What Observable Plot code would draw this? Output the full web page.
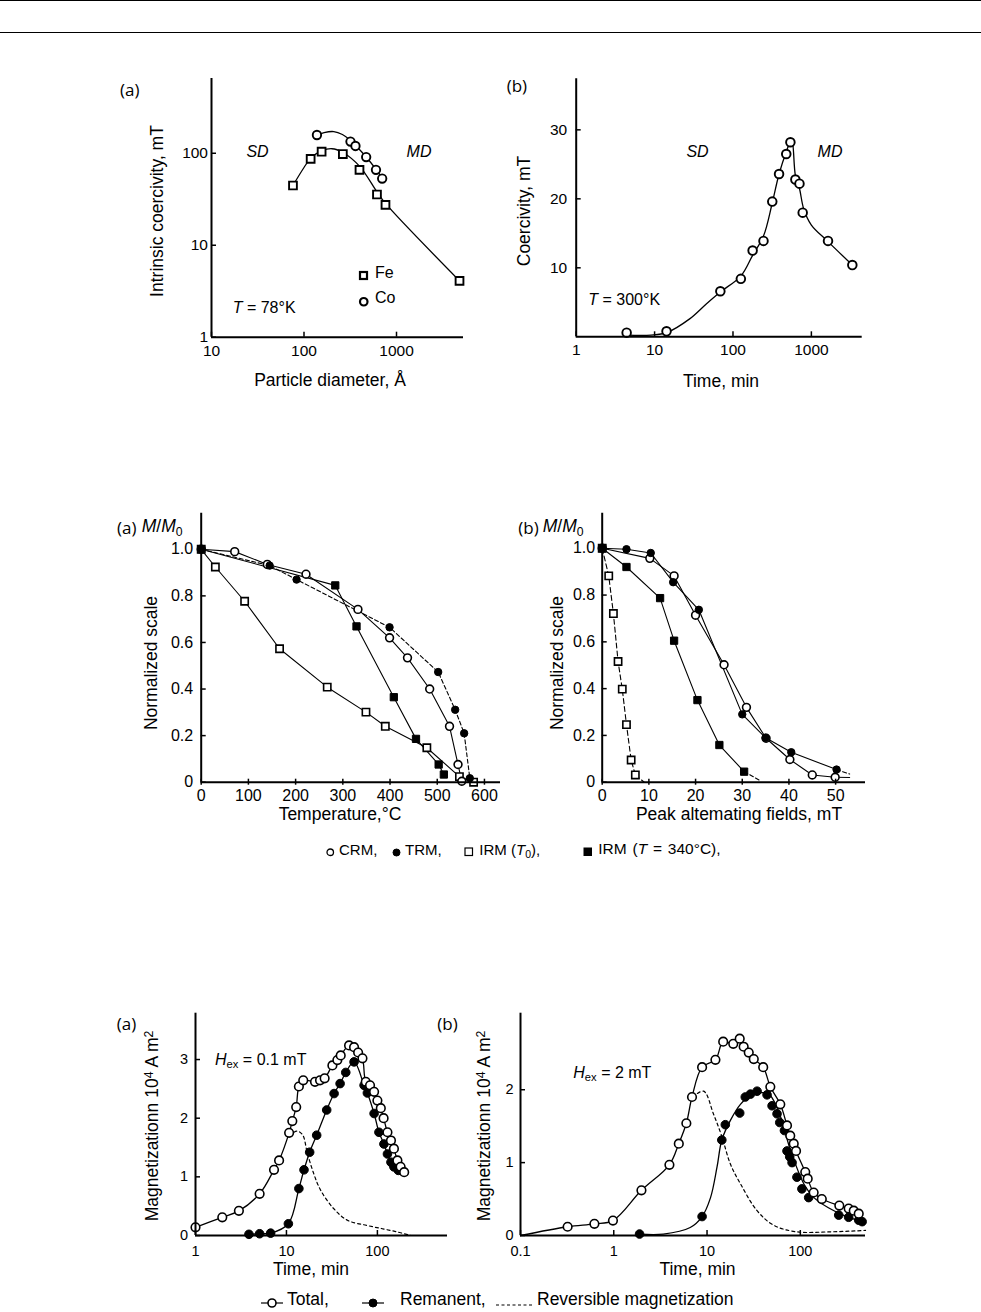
<!DOCTYPE html>
<html><head><meta charset="utf-8">
<script src="https://cdn.jsdelivr.net/npm/d3@7"></script>
<script src="https://cdn.jsdelivr.net/npm/@observablehq/plot@0.6"></script>
<style>
html,body{margin:0;padding:0;background:#fff;}
#page{position:relative;width:981px;height:1312px;overflow:hidden;font-family:"Liberation Sans",Arial,Helvetica,sans-serif;color:#000;}
.t{position:absolute;white-space:nowrap;line-height:1;}
.t sub{font-size:0.7em;vertical-align:-0.3em;line-height:0;}
.t sup{font-size:0.7em;vertical-align:0.45em;line-height:0;}
.hr{position:absolute;left:0;width:981px;height:0;border-top:1.6px solid #000;}
svg.sym{vertical-align:middle;}
</style></head><body><div id="page"></div>
<script>
// ---------- Panel 1 (a): intrinsic coercivity vs particle diameter ----------
const feDiameter = [76, 118, 155, 263, 398, 615, 760, 4800];
const feCoercivity = [44.6, 87, 104, 98, 66, 35.6, 27.5, 4.1];
const coDiameter = [138, 318, 360, 470, 600, 700];
const coCoercivity = [158, 134, 120, 91, 66, 53];
const feFitD = [76, 100, 120, 155, 200, 263, 400, 615, 760, 4800];
const feFitH = [44.6, 70, 90, 106, 112, 102, 72, 38, 28.5, 4.1];
const coFitD = [138, 165, 210, 260, 318, 360, 470, 600, 700];
const coFitH = [158, 168, 172, 160, 138, 122, 91, 67, 54];
const p1XTicks = [10, 100, 1000];
const p1YTicks = [1, 10, 100];

// ---------- Panel 2 (b): coercivity vs time ----------
const timeB = [4.4, 14.2, 69, 126, 178, 245, 317, 387, 478, 540, 625, 705, 775, 1630, 3330];
const coercB = [0.6, 0.8, 6.6, 8.4, 12.5, 13.9, 19.6, 23.6, 26.5, 28.2, 22.8, 22.2, 18.0, 13.9, 10.4];
const fitTimeB = [4.4, 9, 14.2, 28, 46, 69, 126, 178, 245, 317, 387, 478, 560, 625, 705, 800, 1000, 1630, 3330];
const fitCoercB = [0.25, 0.25, 0.6, 2.6, 4.8, 6.5, 8.8, 11.8, 14.6, 19.4, 23.6, 26.8, 28.6, 23.4, 21.5, 18.5, 16.2, 13.8, 10.4];
const p2XTicks = [1, 10, 100, 1000];
const p2YTicks = [10, 20, 30];

// ---------- Panel 3 (a): thermal demagnetization ----------
const tCRM = [0, 71, 140, 222, 332, 399, 437, 484, 526, 544, 552];
const mCRM = [1.0, 0.99, 0.935, 0.893, 0.742, 0.62, 0.534, 0.40, 0.24, 0.076, 0.004];
const tTRM = [0, 145, 202, 399, 502, 538, 557, 569];
const mTRM = [1.0, 0.93, 0.87, 0.665, 0.473, 0.311, 0.21, 0.017];
const tIRM0 = [0, 30, 92, 166, 267, 349, 390, 478, 547, 577];
const mIRM0 = [1.0, 0.924, 0.777, 0.573, 0.408, 0.301, 0.24, 0.148, 0.024, 0.0];
const tIRM340 = [0, 284, 329, 408, 455, 503, 514];
const mIRM340 = [1.0, 0.845, 0.669, 0.365, 0.186, 0.076, 0.033];
const p3XTicks = [0, 100, 200, 300, 400, 500, 600];
const normTicks = [0, 0.2, 0.4, 0.6, 0.8, 1.0];

// ---------- Panel 4 (b): AF demagnetization ----------
const hCRM = [0, 10.2, 15.4, 20, 26.1, 30.9, 35.1, 40.2, 45, 49.9];
const aCRM = [1.0, 0.957, 0.882, 0.714, 0.502, 0.32, 0.188, 0.097, 0.031, 0.021];
const hTRM = [0, 5.2, 10.4, 15.2, 20.7, 30, 35, 40.5, 50.2];
const aTRM = [1.0, 0.996, 0.98, 0.855, 0.737, 0.29, 0.19, 0.128, 0.054];
const hIRM0 = [0, 1.4, 2.4, 3.4, 4.3, 5.2, 6.2, 7.1];
const aIRM0 = [1.0, 0.882, 0.721, 0.516, 0.398, 0.246, 0.095, 0.031];
const hIRM340 = [0, 5.2, 12.4, 15.4, 20.4, 25.1, 30.4];
const aIRM340 = [1.0, 0.92, 0.787, 0.605, 0.351, 0.159, 0.045];
const crmTailH = [49.9, 53], crmTailA = [0.021, 0.02];
const trmTailH = [50.2, 53], trmTailA = [0.054, 0.035];
const irm0TailH = [7.1, 9], irm0TailA = [0.031, 0.0];
const irm340TailH = [30.4, 34], irm340TailA = [0.045, 0.005];
const p4XTicks = [0, 10, 20, 30, 40, 50];

// ---------- Panel 5 (a): Hex = 0.1 mT ----------
const tTotA = [1, 1.97, 3.0, 5.07, 7.3, 8.3, 10.7, 11.6, 12.8, 13.7, 15.3, 20.6, 23.4, 26.3, 32, 36.3, 39.5, 48.8, 55.4, 61.4, 68.5, 74.5, 83, 92, 100, 109, 117, 129, 141, 152, 166, 180, 197];
const mTotA = [0.14, 0.31, 0.42, 0.71, 1.12, 1.28, 1.75, 1.95, 2.19, 2.54, 2.645, 2.62, 2.645, 2.68, 2.90, 2.99, 3.07, 3.24, 3.21, 3.12, 3.02, 2.62, 2.56, 2.45, 2.3, 2.17, 2.0, 1.76, 1.62, 1.48, 1.28, 1.17, 1.08];
const tRemA = [3.87, 5.07, 6.7, 10.5, 13.7, 15.6, 18, 21.5, 27.7, 33.4, 38.9, 44.9, 55.4, 71.4, 77.6, 92, 104, 118, 129, 141, 152, 170];
const mRemA = [0.02, 0.03, 0.04, 0.2, 0.8, 1.12, 1.42, 1.71, 2.14, 2.42, 2.59, 2.78, 2.96, 2.56, 2.43, 2.08, 1.76, 1.56, 1.39, 1.25, 1.17, 1.11];
const tRevA = [10.7, 13, 15, 17, 20, 23.8, 33, 46.8, 77.6, 118, 166, 233];
const mRevA = [1.7, 1.78, 1.72, 1.4, 1.05, 0.77, 0.46, 0.26, 0.17, 0.11, 0.06, 0.0];
const p5XTicks = [1, 10, 100];
const p5YTicks = [0, 1, 2, 3];

// ---------- Panel 6 (b): Hex = 2 mT ----------
const lineStartB = [0.1, 0];
const tTotB = [0.32, 0.62, 0.98, 1.98, 3.95, 4.98, 6.0, 6.9, 8.85, 12.3, 14.9, 19.1, 22.4, 24.7, 28, 31.7, 40, 47.7, 61, 72, 78, 85, 90, 113, 120, 139, 170, 262, 330, 374, 423];
const mTotB = [0.12, 0.16, 0.205, 0.62, 0.97, 1.26, 1.54, 1.9, 2.31, 2.41, 2.66, 2.63, 2.70, 2.59, 2.51, 2.42, 2.31, 2.04, 1.80, 1.51, 1.37, 1.26, 1.16, 0.87, 0.78, 0.59, 0.50, 0.41, 0.37, 0.34, 0.30];
const tRemB = [1.89, 8.85, 14.4, 15.7, 22.4, 25.7, 29.2, 34.4, 44, 49.8, 56.3, 60.2, 67.6, 72, 77, 81.6, 92, 104, 123, 258, 330, 423, 460];
const mRemB = [0.02, 0.26, 1.31, 1.52, 1.68, 1.90, 1.94, 1.98, 1.93, 1.78, 1.67, 1.55, 1.44, 1.16, 1.08, 1.00, 0.80, 0.64, 0.52, 0.28, 0.25, 0.21, 0.19];
const remFitT = [1.89, 3.4, 6.6, 8.85, 10.9, 12.8, 14.4, 17.8, 22.8, 29.2, 40.5, 47.7, 61, 78, 110, 140, 200, 300, 460];
const remFitM = [0.02, 0.02, 0.11, 0.26, 0.52, 0.94, 1.31, 1.58, 1.80, 1.92, 1.96, 1.92, 1.64, 1.18, 0.70, 0.52, 0.38, 0.27, 0.19];
const tRevB = [7.0, 9.2, 11.7, 14.4, 17.8, 22.8, 34.4, 52, 92, 209, 500];
const mRevB = [1.9, 1.98, 1.67, 1.36, 0.98, 0.71, 0.34, 0.14, 0.05, 0.05, 0.07];
const p6XTicks = [0.1, 1, 10, 100];
const p6YTicks = [0, 1, 2];

// ---------- helpers ----------
const FONT = '"Liberation Sans", Arial, Helvetica, sans-serif';
const page = document.getElementById("page");
const pairs = (xs, ys) => xs.map((x, i) => ({x, y: ys[i]}));
const K = "black";

function addText(html, x, y, o = {}) {
  const d = document.createElement("div");
  d.className = "t";
  d.innerHTML = html;
  d.style.left = x + "px";
  d.style.top = y + "px";
  d.style.fontSize = (o.size || 17) + "px";
  if (o.family) d.style.fontFamily = o.family;
  if (o.wordSpacing) d.style.wordSpacing = o.wordSpacing + "px";
  const tx = o.anchor === "middle" ? "-50%" : o.anchor === "end" ? "-100%" : "0";
  d.style.transform = `translate(${tx},-50%)` + (o.rotate ? ` rotate(${o.rotate}deg)` : "");
  page.appendChild(d);
}

function addSym(x, y, o) {
  const w = o.line || (o.size + 4), h = o.size + 4;
  let inner = "";
  if (o.line) inner += `<line x1="0" x2="${w}" y1="${h/2}" y2="${h/2}" stroke="black" stroke-width="1.2" ${o.dash ? `stroke-dasharray="${o.dash}"` : ""}/>`;
  if (o.shape === "circle") inner += `<circle cx="${w/2}" cy="${h/2}" r="${o.size/2}" fill="${o.fill}" stroke="black" stroke-width="${o.sw}"/>`;
  if (o.shape === "square") inner += `<rect x="${w/2 - o.size/2}" y="${h/2 - o.size/2}" width="${o.size}" height="${o.size}" fill="${o.fill}" stroke="black" stroke-width="${o.sw}"/>`;
  const d = document.createElement("div");
  d.className = "t";
  d.innerHTML = `<svg class="sym" width="${w}" height="${h}">${inner}</svg>`;
  d.style.left = (x - w / 2) + "px";
  d.style.top = (y - h / 2) + "px";
  page.appendChild(d);
}

function panel(cfg) {
  const {left, top, width, height, frame, x, y, marks, xTicks, yTicks, xFormat, yFormat, fontSize, xGap, yGap, xTick, yTick} = cfg;
  const [fx0, fy0, fx1, fy1] = frame;
  const svg = Plot.plot({
    width, height,
    marginLeft: fx0 - left, marginRight: left + width - fx1,
    marginTop: fy0 - top, marginBottom: top + height - fy1,
    x: {...x, axis: null, label: null},
    y: {...y, axis: null, label: null},
    style: {fontFamily: FONT, fontSize: fontSize + "px", color: "black", background: "transparent", overflow: "visible"},
    marks: [
      ...marks,
      Plot.ruleX([x.domain[0]], {stroke: K, strokeWidth: 2}),
      Plot.ruleY([y.domain[0]], {stroke: K, strokeWidth: 2}),
      Plot.axisX(xTicks, {anchor: "bottom", label: null, tickSize: xTick[0], dy: xTick[1], tickPadding: xGap - xTick[1] - xTick[0],
        tickFormat: xFormat, fontSize, strokeWidth: 1.5, stroke: K, fill: K}),
      Plot.axisY(yTicks, {anchor: "left", label: null, tickSize: yTick[0], dx: yTick[1], tickPadding: yGap + yTick[1] - yTick[0],
        tickFormat: yFormat, fontSize, strokeWidth: 1.5, stroke: K, fill: K})
    ]
  });
  svg.style.position = "absolute";
  svg.style.left = left + "px";
  svg.style.top = top + "px";
  svg.style.maxWidth = "none";
  page.appendChild(svg);
}

const logFmt = d => String(d);
const normFmt = d => d === 0 ? "0" : d.toFixed(1);
const intFmt = d => String(d);
const openDot = (xs, ys, r, extra = {}) => Plot.dot(pairs(xs, ys), {x: "x", y: "y", r, fill: "white", stroke: K, strokeWidth: 1.7, ...extra});
const fillDot = (xs, ys, r, extra = {}) => Plot.dot(pairs(xs, ys), {x: "x", y: "y", r, fill: K, stroke: K, strokeWidth: 1, ...extra});
const ln = (xs, ys, extra = {}) => Plot.line(pairs(xs, ys), {x: "x", y: "y", stroke: K, strokeWidth: 1.1, ...extra});

// top rules
for (const yy of [0, 32]) { const h = document.createElement("div"); h.className = "hr"; h.style.top = yy + "px"; page.appendChild(h); }

// ---------- Panel 1 ----------
panel({
  left: 100, top: 60, width: 380, height: 340, frame: [211, 78, 463, 336.7],
  x: {type: "log", domain: [10, 5300]}, y: {type: "log", domain: [1, 650]},
  xTicks: p1XTicks, yTicks: p1YTicks, xFormat: logFmt, yFormat: logFmt, fontSize: 15.5,
  xGap: 8, yGap: 3.5, xTick: [5, -5], yTick: [5, 5],
  marks: [
    ln(feFitD, feFitH, {curve: "catmull-rom", strokeWidth: 1.3}),
    ln(coFitD, coFitH, {curve: "catmull-rom", strokeWidth: 1.3}),
    openDot(feDiameter, feCoercivity, 4.4, {symbol: "square", strokeWidth: 1.9}),
    openDot(coDiameter, coCoercivity, 4.2, {strokeWidth: 1.9})
  ]
});
addText("(a)", 120, 89, {size: 17, family: "'Open Sans'"});
addText("Intrinsic coercivity, mT", 158, 211, {size: 17.5, anchor: "middle", rotate: -90});
addText("Particle diameter, Å", 330, 381, {size: 17.5, anchor: "middle"});
addText("<i>SD</i>", 257.5, 152, {size: 16, anchor: "middle"});
addText("<i>MD</i>", 419, 152, {size: 16, anchor: "middle"});
addText("<i>T</i> = 78°K", 232.7, 308.3, {size: 16});
addSym(363.3, 272.7, {shape: "square", fill: "white", size: 7, sw: 2.2});
addText("Fe", 375, 273, {size: 16});
addSym(364, 298.3, {shape: "circle", fill: "white", size: 7.5, sw: 2.2});
addText("Co", 375, 298.3, {size: 16});

// ---------- Panel 2 ----------
panel({
  left: 490, top: 60, width: 390, height: 340, frame: [575.7, 78.3, 861.7, 336.3],
  x: {type: "log", domain: [1, 4450]}, y: {type: "linear", domain: [0, 37.4]},
  xTicks: p2XTicks, yTicks: p2YTicks, xFormat: logFmt, yFormat: intFmt, fontSize: 15.5,
  xGap: 7, yGap: 9, xTick: [5, -5], yTick: [5, 5],
  marks: [
    ln(fitTimeB, fitCoercB, {curve: "catmull-rom", strokeWidth: 1.3}),
    openDot(timeB, coercB, 4.3, {strokeWidth: 1.9})
  ]
});
addText("(b)", 506.7, 85, {size: 17, family: "'Open Sans'"});
addText("Coercivity, mT", 525, 210.5, {size: 17.5, anchor: "middle", rotate: -90});
addText("Time, min", 721, 381.7, {size: 17.5, anchor: "middle"});
addText("<i>SD</i>", 697.5, 151.7, {size: 16, anchor: "middle"});
addText("<i>MD</i>", 830, 151.7, {size: 16, anchor: "middle"});
addText("<i>T</i> = 300°K", 588.3, 300, {size: 16});

// ---------- Panel 3 ----------
panel({
  left: 100, top: 500, width: 420, height: 330, frame: [200.7, 512.7, 500, 781.7],
  x: {type: "linear", domain: [0, 634]}, y: {type: "linear", domain: [0, 1.155]},
  xTicks: p3XTicks, yTicks: normTicks, xFormat: intFmt, yFormat: normFmt, fontSize: 16,
  xGap: 7, yGap: 8, xTick: [6, -3], yTick: [5, 5],
  marks: [
    ln(tIRM340, mIRM340),
    ln(tIRM0, mIRM0),
    ln(tCRM, mCRM),
    ln(tTRM, mTRM, {strokeDasharray: "4,2.5"}),
    openDot(tIRM0, mIRM0, 4.1, {symbol: "square", strokeWidth: 1.6}),
    fillDot(tIRM340, mIRM340, 4.1, {symbol: "square"}),
    openDot(tCRM, mCRM, 3.9, {strokeWidth: 1.6}),
    fillDot(tTRM, mTRM, 3.7)
  ]
});
addText("(a)", 117, 527, {size: 17, family: "'Open Sans'"});
addText("<i>M</i>/<i>M</i><sub>0</sub>", 141.7, 527, {size: 17.5});
addText("Normalized scale", 151.7, 663, {size: 17.5, anchor: "middle", rotate: -90});
addText("Temperature,°C", 340, 815, {size: 17.5, anchor: "middle"});

// ---------- Panel 4 ----------
panel({
  left: 520, top: 500, width: 380, height: 330, frame: [601.7, 512.7, 865, 781.7],
  x: {type: "linear", domain: [0, 56.4]}, y: {type: "linear", domain: [0, 1.15]},
  xTicks: p4XTicks, yTicks: normTicks, xFormat: intFmt, yFormat: normFmt, fontSize: 16,
  xGap: 7, yGap: 7, xTick: [6, -3], yTick: [5, 5],
  marks: [
    ln(hIRM340, aIRM340),
    ln(irm340TailH, irm340TailA, {strokeDasharray: "4,2.5"}),
    ln(hIRM0, aIRM0, {strokeDasharray: "5,3"}),
    ln(irm0TailH, irm0TailA, {strokeDasharray: "5,3"}),
    ln(hCRM, aCRM),
    ln(crmTailH, crmTailA),
    ln(hTRM, aTRM),
    ln(trmTailH, trmTailA, {strokeDasharray: "4,2.5"}),
    openDot(hIRM0, aIRM0, 4.1, {symbol: "square", strokeWidth: 1.6}),
    fillDot(hIRM340, aIRM340, 4.1, {symbol: "square"}),
    openDot(hCRM, aCRM, 3.9, {strokeWidth: 1.6}),
    fillDot(hTRM, aTRM, 3.7)
  ]
});
addText("(b)", 518.3, 527, {size: 17, family: "'Open Sans'"});
addText("<i>M</i>/<i>M</i><sub>0</sub>", 542.7, 527, {size: 17.5});
addText("Normalized scale", 558.3, 663, {size: 17.5, anchor: "middle", rotate: -90});
addText("Peak altemating fields, mT", 739, 815, {size: 17.5, anchor: "middle"});

// middle legend
addSym(330, 849, {shape: "circle", fill: "white", size: 6.5, sw: 1.3});
addText("CRM,", 339, 849, {size: 15});
addSym(396, 849, {shape: "circle", fill: "black", size: 7, sw: 1});
addText("TRM,", 405, 849, {size: 15});
addSym(469, 849, {shape: "square", fill: "white", size: 7.5, sw: 1.2});
addText("IRM (<i>T</i><sub>0</sub>),", 479.3, 849, {size: 15});
addSym(588, 849, {shape: "square", fill: "black", size: 7.5, sw: 1});
addText("IRM (<i>T</i> = 340°C),", 598.3, 849, {size: 15.5, wordSpacing: 1.5});

// ---------- Panel 5 ----------
panel({
  left: 100, top: 1000, width: 360, height: 280, frame: [195, 1012.7, 447, 1235],
  x: {type: "log", domain: [1, 590]}, y: {type: "linear", domain: [0, 3.79]},
  xTicks: p5XTicks, yTicks: p5YTicks, xFormat: logFmt, yFormat: intFmt, fontSize: 14.5,
  xGap: 10, yGap: 7.5, xTick: [5, -5], yTick: [5, 5],
  marks: [
    ln(tRevA, mRevA, {curve: "catmull-rom", strokeDasharray: "3,3", strokeWidth: 1.2}),
    ln(tTotA, mTotA, {curve: "catmull-rom", strokeWidth: 1.3}),
    ln(tRemA, mRemA, {curve: "catmull-rom", strokeWidth: 1.3}),
    fillDot(tRemA, mRemA, 4.3),
    openDot(tTotA, mTotA, 4.3, {strokeWidth: 1.6})
  ]
});
addText("(a)", 116.7, 1023.3, {size: 17, family: "'Open Sans'"});
addText("Magnetizationn 10<sup>4</sup> A m<sup>2</sup>", 153.3, 1126, {size: 17.5, anchor: "middle", rotate: -90});
addText("<i>H</i><sub>ex</sub> = 0.1 mT", 215, 1060, {size: 16});
addText("Time, min", 311, 1270, {size: 17.5, anchor: "middle"});

// ---------- Panel 6 ----------
panel({
  left: 460, top: 1000, width: 420, height: 280, frame: [520, 1012.7, 865, 1235],
  x: {type: "log", domain: [0.1, 500]}, y: {type: "linear", domain: [0, 3.05]},
  xTicks: p6XTicks, yTicks: p6YTicks, xFormat: logFmt, yFormat: intFmt, fontSize: 14.5,
  xGap: 10, yGap: 7, xTick: [5, -5], yTick: [5, 5],
  marks: [
    ln(tRevB, mRevB, {curve: "catmull-rom", strokeDasharray: "3,3", strokeWidth: 1.2}),
    ln([lineStartB[0], ...tTotB], [lineStartB[1], ...mTotB], {curve: "catmull-rom", strokeWidth: 1.3}),
    ln(remFitT, remFitM, {curve: "catmull-rom", strokeWidth: 1.3}),
    fillDot(tRemB, mRemB, 4.3),
    openDot(tTotB, mTotB, 4.3, {strokeWidth: 1.6})
  ]
});
addText("(b)", 437.3, 1023.3, {size: 17, family: "'Open Sans'"});
addText("Magnetizationn 10<sup>4</sup> A m<sup>2</sup>", 485, 1126, {size: 17.5, anchor: "middle", rotate: -90});
addText("<i>H</i><sub>ex</sub> = 2 mT", 573.3, 1073.3, {size: 16});
addText("Time, min", 697.5, 1270, {size: 17.5, anchor: "middle"});

// bottom legend
addSym(272, 1300, {shape: "circle", fill: "white", size: 8, sw: 1.6, line: 22});
addText("Total,", 287, 1300, {size: 17.5});
addSym(373, 1300, {shape: "circle", fill: "black", size: 8, sw: 1, line: 22});
addText("Remanent,", 400, 1300, {size: 17.5});
addSym(514, 1300, {line: 36, dash: "3,2.5", size: 4});
addText("Reversible magnetization", 537, 1300, {size: 17.5});
</script></body></html>
